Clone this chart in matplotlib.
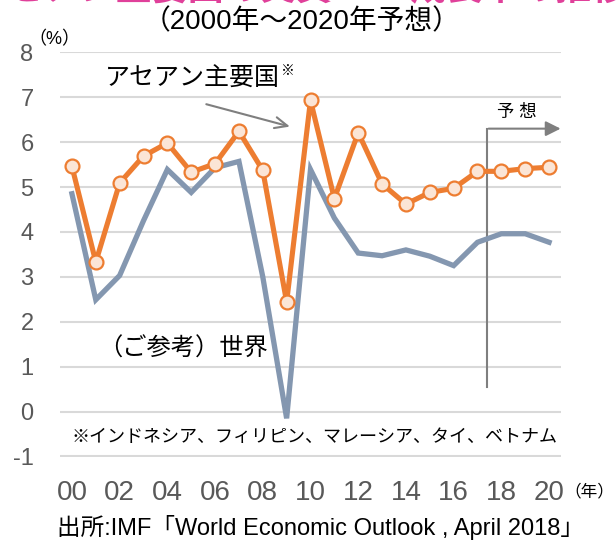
import matplotlib
matplotlib.use("Agg")
import matplotlib.pyplot as plt

plt.rcParams['font.family'] = ['Liberation Sans', 'Noto Sans CJK JP', 'DejaVu Sans']
plt.rcParams['axes.unicode_minus'] = False

# years 2000-2020 (2018 onward = forecast)
years = list(range(2000, 2021))
year_labels = ['00', '02', '04', '06', '08', '10', '12', '14', '16', '18', '20']

# real GDP growth (%)
asean = [5.46, 3.33, 5.09, 5.69, 5.98, 5.33, 5.52, 6.24, 5.37, 2.44,
         6.93, 4.74, 6.21, 5.07, 4.62, 4.88, 4.97, 5.35, 5.35, 5.41, 5.44]
world = [4.85, 2.49, 3.03, 4.25, 5.39, 4.88, 5.43, 5.57, 3.00, -0.15,
         5.39, 4.31, 3.53, 3.47, 3.60, 3.46, 3.25, 3.77, 3.96, 3.96, 3.77]

W, H = 616, 542
fig = plt.figure(figsize=(W / 100, H / 100), dpi=100)


def px(x, y):
    return x / W, 1 - y / H


ax = fig.add_axes([60 / W, 1 - 456.5 / H, 501 / W, (456.5 - 52.3) / H])
xs = [y - 2000 for y in years]

ax.plot(xs, world, color='#8497B0', lw=3.8, solid_joinstyle='miter', zorder=3)
ax.plot(xs, asean, color='#ED7D31', lw=3.7, marker='o', ms=10,
        mfc='#FBE5D6', mec='#ED7D31', mew=1.6, zorder=4, clip_on=False)

ax.set_xlim(-0.5, 20.5)
ax.set_ylim(-1, 8)
ax.set_yticks(range(-1, 9))
ax.set_xticks(range(0, 21, 2))
ax.set_xticklabels(year_labels)
ax.grid(axis='y', color='#d9d9d9', lw=1.5)
ax.set_axisbelow(True)
for s in ax.spines.values():
    s.set_visible(False)
ax.tick_params(length=0, labelcolor='#595959')
ax.tick_params(axis='y', pad=19, labelsize=17)
ax.tick_params(axis='x', pad=17, labelsize=20)

# forecast marker
ax.plot([17.4, 17.4], [0.55, 6.3], color='#7f7f7f', lw=1.5, clip_on=False, zorder=2)
ax.annotate('', xy=(20.6, 6.3), xytext=(17.35, 6.3), annotation_clip=False,
            arrowprops=dict(arrowstyle='-|>,head_length=0.9,head_width=0.45',
                            color='#7f7f7f', lw=1.5))
fig.text(*px(517, 112), '予 想', ha='center', va='center', fontsize=12.5)

# series labels
ax.annotate('', xy=(9.25, 6.33), xytext=(5.52, 6.86),
            arrowprops=dict(arrowstyle='->,head_length=0.9,head_width=0.4',
                            color='#7f7f7f', lw=1.5))
fig.text(*px(105, 79), 'アセアン主要国', ha='left', va='center', fontsize=18)
fig.text(*px(281, 71), '※', ha='left', va='center', fontsize=10)
fig.text(*px(98, 349), '（ご参考）世界', ha='left', va='center', fontsize=17.5)
fig.text(*px(314, 437), '※インドネシア、フィリピン、マレーシア、タイ、ベトナム',
         ha='center', va='center', fontsize=13)

# titles and units (main title is cut off at the top edge in the source)
fig.text(*px(300, 7.5), 'アセアン主要国の実質GDP成長率の推移', ha='center', va='bottom',
         fontsize=26, color='#E0409A', fontweight='bold')
fig.text(*px(302, 22), '（2000年～2020年予想）', ha='center', va='center', fontsize=20)
fig.text(*px(54, 40), '（%）', ha='center', va='center', fontsize=13)
fig.text(*px(589, 491), '（年）', ha='center', va='center', fontsize=12)
fig.text(*px(57, 527), '出所:IMF「World Economic Outlook , April 2018」',
         ha='left', va='center', fontsize=17)

fig.savefig('out.png', dpi=100)
